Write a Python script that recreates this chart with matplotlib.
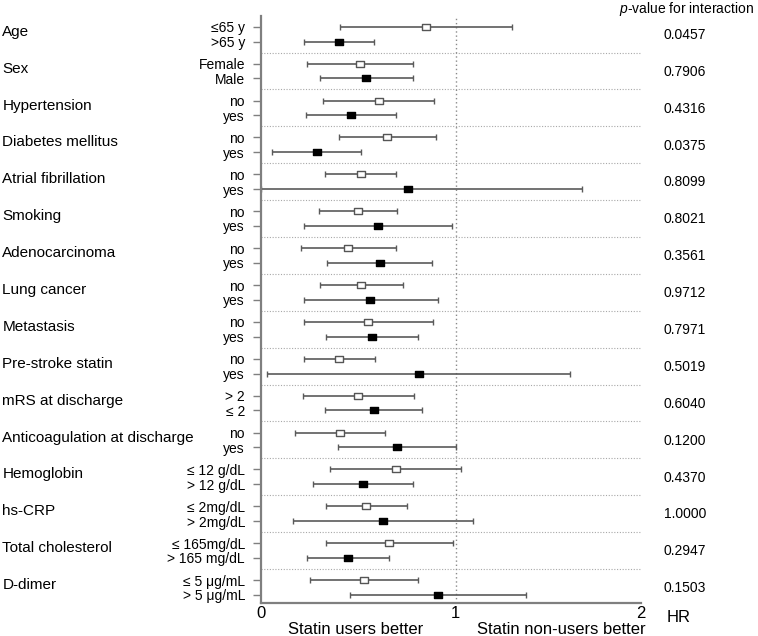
#!/usr/bin/env python3
"""
Forest plot of statin effect by subgroup (HR with 95% CI).
"""

import matplotlib
matplotlib.use("Agg")
import matplotlib.pyplot as plt
from matplotlib.path import Path
from matplotlib import transforms

plt.rcParams['font.family'] = ['Liberation Sans', 'DejaVu Sans']
plt.rcParams['mathtext.fontset'] = 'custom'
plt.rcParams['mathtext.it'] = 'Liberation Sans:italic'
plt.rcParams['mathtext.rm'] = 'Liberation Sans'

# Subgroups and the two levels of each
groups = ["Age", "Sex", "Hypertension", "Diabetes mellitus", "Atrial fibrillation",
          "Smoking", "Adenocarcinoma", "Lung cancer", "Metastasis",
          "Pre-stroke statin", "mRS at discharge", "Anticoagulation at discharge",
          "Hemoglobin", "hs-CRP", "Total cholesterol", "D-dimer"]
level1 = ["≤65 y", "Female", "no", "no", "no", "no", "no", "no", "no", "no",
          "> 2", "no", "≤ 12 g/dL", "≤ 2mg/dL", "≤ 165mg/dL", "≤ 5 μg/mL"]
level2 = [">65 y", "Male", "yes", "yes", "yes", "yes", "yes", "yes", "yes", "yes",
          "≤ 2", "yes", "> 12 g/dL", "> 2mg/dL", "> 165 mg/dL", "> 5 μg/mL"]

# Level 1 (open squares): HR, lower CI, upper CI
hr1 = [0.848, 0.509, 0.604, 0.649, 0.512, 0.497, 0.449, 0.515,
       0.551, 0.402, 0.500, 0.408, 0.692, 0.541, 0.659, 0.527]
lo1 = [0.406, 0.236, 0.320, 0.402, 0.329, 0.296, 0.205, 0.301,
       0.219, 0.219, 0.216, 0.176, 0.356, 0.334, 0.332, 0.250]
hi1 = [1.291, 0.783, 0.889, 0.899, 0.693, 0.700, 0.695, 0.729,
       0.885, 0.586, 0.784, 0.639, 1.029, 0.750, 0.986, 0.805]

# Level 2 (filled squares)
hr2 = [0.401, 0.541, 0.461, 0.286, 0.757, 0.601, 0.610, 0.562,
       0.570, 0.810, 0.579, 0.699, 0.524, 0.625, 0.447, 0.908]
lo2 = [0.219, 0.301, 0.229, 0.058, 0.000, 0.219, 0.341, 0.219,
       0.332, 0.033, 0.330, 0.394, 0.269, 0.164, 0.236, 0.455]
hi2 = [0.582, 0.783, 0.693, 0.515, 1.651, 0.983, 0.878, 0.908,
       0.808, 1.586, 0.829, 1.003, 0.779, 1.089, 0.659, 1.360]

p_values = ["0.0457", "0.7906", "0.4316", "0.0375", "0.8099", "0.8021",
            "0.3561", "0.9712", "0.7971", "0.5019", "0.6040", "0.1200",
            "0.4370", "1.0000", "0.2947", "0.1503"]

# slightly wide rectangle marker like the original
RECT = Path([(-1, -0.72), (1, -0.72), (1, 0.72), (-1, 0.72), (-1, -0.72)],
            [Path.MOVETO, Path.LINETO, Path.LINETO, Path.LINETO, Path.CLOSEPOLY])


def plot_forest():
    fig = plt.figure(figsize=(7.58, 6.36), dpi=100)
    ax = fig.add_axes([261 / 758, 1 - 603 / 636, 380 / 758, 587 / 636])

    n = len(groups)
    y1 = [2.5 * i + 0.75 for i in range(n)]
    y2 = [2.5 * i + 1.75 for i in range(n)]

    line_col = '#5a5a5a'

    # separators between subgroups
    for i in range(1, n):
        ax.axhline(2.5 * i, color='#a8a8a8', ls=(0, (1, 1.5)), lw=0.8, zorder=1)
    ax.axvline(1, color='#8a8a8a', ls=(0, (1, 2)), lw=1.0, zorder=1)

    err1 = [[h - l for h, l in zip(hr1, lo1)], [u - h for h, u in zip(hr1, hi1)]]
    err2 = [[h - l for h, l in zip(hr2, lo2)], [u - h for h, u in zip(hr2, hi2)]]

    ax.errorbar(hr1, y1, xerr=err1, fmt='none', ecolor=line_col, elinewidth=1.2,
                capsize=2, capthick=1.0, zorder=2)
    ax.errorbar(hr2, y2, xerr=err2, fmt='none', ecolor=line_col, elinewidth=1.2,
                capsize=2, capthick=1.0, zorder=2)
    ax.plot(hr1, y1, ls='none', marker=RECT, ms=6.3, mfc='white', mec='#555555',
            mew=1.0, zorder=3)
    ax.plot(hr2, y2, ls='none', marker=RECT, ms=6.3, mfc='black', mec='black',
            mew=1.0, zorder=3)

    ax.set_xlim(0, 1.952)
    ax.set_ylim(39.8, 0.02)

    # y ticks carry the level labels
    yt = []
    yl = []
    for a, b, la, lb in zip(y1, y2, level1, level2):
        yt += [a, b]
        yl += [la, lb]
    ax.set_yticks(yt, yl)
    ax.tick_params(axis='y', length=5.5, width=1.0, color='#7f7f7f', pad=6,
                   labelsize=10)

    ax.set_xticks([0, 1, 1.952], ['0', '1', '2'])
    ax.tick_params(axis='x', length=0, pad=2, labelsize=12)

    for side in ['top', 'right']:
        ax.spines[side].set_visible(False)
    for side in ['left', 'bottom']:
        ax.spines[side].set_color('#7f7f7f')
        ax.spines[side].set_linewidth(1.6)

    # group names on the far left, p-values on the right
    trans = transforms.blended_transform_factory(fig.transFigure, ax.transData)
    for name, a in zip(groups, y1):
        ax.text(0.003, a + 0.34, name, transform=trans, ha='left', va='center',
                fontsize=11, clip_on=False)
    for p, a in zip(p_values, y1):
        ax.text(0.9037, a + 0.55, p, transform=trans, ha='center', va='center',
                fontsize=10, clip_on=False)

    fig.text(0.906, 1 - 9 / 636, r"$\it{p}$-value for interaction",
             ha='center', va='center', fontsize=10)

    fig.text(667 / 758, 1 - 617 / 636, "HR", ha='left', va='center', fontsize=12)
    fig.text(355.5 / 758, 1 - 629 / 636, "Statin users better",
             ha='center', va='center', fontsize=12)
    fig.text(561.3 / 758, 1 - 629 / 636, "Statin non-users better",
             ha='center', va='center', fontsize=12)

    fig.savefig('out.png', dpi=100)


def main():
    plot_forest()


if __name__ == "__main__":
    main()
